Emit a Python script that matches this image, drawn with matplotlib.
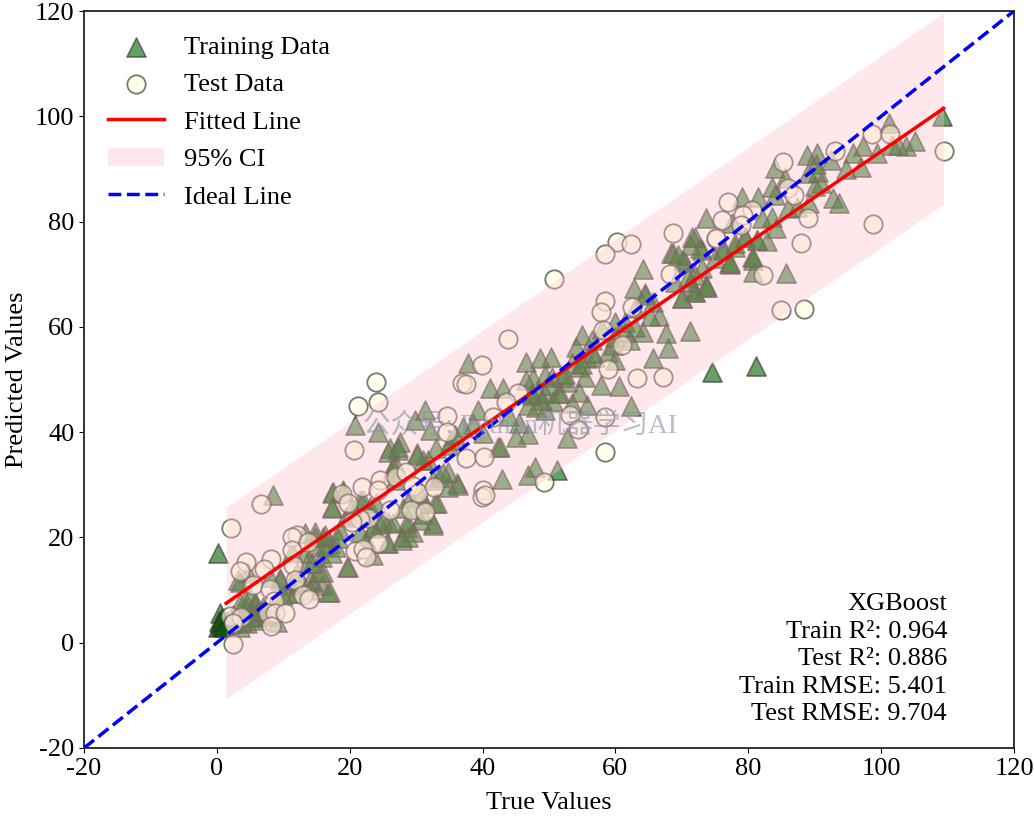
import matplotlib
matplotlib.use("Agg")
import matplotlib.pyplot as plt
import numpy as np

# values
train_x = [109.1, 101.2, 105.1, 103.7, 102.5, 101.6, 99.4, 97.3, 95.7, 96.9,
           94.7, 92.5, 90.3, 88.8, 90.2, 89.0, 90.5, 90.0, 91.0, 84.0,
           85.5, 83.5, 84.0, 86.0, 87.3, 89.1, 92.8, 93.7, 79.1, 81.5,
           73.6, 77.5, 82.0, 83.5, 84.2, 79.5, 81.3, 82.8, 72.0, 78.0,
           76.2, 73.0, 77.1, 80.6, 80.7, 80.7, 85.7, 73.7, 71.7, 72.0,
           64.2, 62.8, 64.5, 65.7, 66.5, 65.2, 64.2, 67.6, 71.2, 67.9,
           65.6, 62.2, 59.6, 58.9, 59.9, 57.9, 60.5, 62.3, 55.7, 54.9,
           54.0, 56.4, 55.7, 56.9, 53.4, 54.5, 55.4, 54.5, 52.7, 51.6,
           50.3, 48.6, 46.6, 47.6, 49.4, 46.5, 48.4, 49.4, 51.3, 46.8,
           48.1, 49.4, 52.7, 46.8, 45.1, 42.3, 37.8, 41.1, 43.1, 39.3,
           40.0, 35.3, 47.9, 46.8, 51.2, 42.9, 36.1, 74.5, 81.2, 68.4,
           70.5, 70.0, 72.0, 73.7, 71.2, 73.0, 77.2, 20.8, 31.3, 29.8,
           24.2, 32.1, 35.8, 26.1, 27.6, 27.3, 30.1, 31.8, 42.6, 8.5,
           0.2, 17.5, 19.0, 17.3, 26.8, 26.3, 32.5, 34.8, 36.3, 34.8,
           32.5, 32.8, 29.5, 27.8, 28.6, 25.6, 23.5, 25.8, 19.8, 23.5,
           19.5, 21.5, 23.0, 21.0, 17.0, 14.8, 13.3, 16.0, 14.8, 15.8,
           18.0, 16.0, 15.8, 16.8, 14.5, 13.5, 9.5, 8.0, 4.7, 3.5,
           10.7, 5.0, 3.5, 5.7, 7.0, 4.0, 5.5, 9.0, 3.5, 0.5,
           0.5, 0.2, 0.6, 0.3, 0.7, 1.0, 2.8, 4.6, 6.2, 7.5,
           29.0, 30.5, 33.5, 31.0, 28.0, 24.5, 22.5, 18.5, 12.0, 11.0,
           52.0, 50.0, 47.5, 53.5, 56.5, 60.0, 61.5, 63.0, 69.0, 75.0,
           3.2, 4.2, 5.7, 4.2, 6.2, 5.3, 3.8, 9.5, 11.8, 14.0,
           14.0, 15.5, 17.0, 14.3, 13.3, 11.3, 16.3, 17.3, 19.6, 14.8,
           18.2, 17.3, 19.0, 17.3, 22.0, 20.3, 22.0, 26.5, 26.8, 30.1,
           31.0, 34.0, 33.1, 32.5, 28.6, 30.6, 25.0, 26.5, 23.5, 28.8,
           25.8, 16.3, 27.9, 31.3, 29.5, 25.8, 27.3, 71.6, 68.6, 70.1,
           69.4, 72.7, 71.2, 70.9, 73.8, 72.0, 70.0, 64.4, 76.2, 78.0,
           79.5, 81.3, 80.7, 77.2, 50.6, 47.5, 50.5, 48.9, 52.4, 55.0,
           58.0, 60.0, 61.5, 63.0, 44.0, 45.5, 33.0, 37.0, 2.0, 1.5,
           1.0, 2.4, 6.8, 8.2, 10.0, 12.5, 21.5, 24.0, 35.0, 38.5]
train_y = [100.0, 98.7, 95.4, 94.3, 94.5, 94.5, 93.1, 94.3, 93.0, 90.3,
           90.0, 91.7, 93.1, 92.6, 90.9, 89.2, 89.5, 86.8, 87.3, 90.2,
           88.2, 86.6, 85.0, 82.6, 82.7, 83.6, 84.5, 83.5, 84.7, 84.7,
           80.7, 79.7, 80.7, 80.9, 78.8, 77.1, 76.5, 76.4, 77.1, 75.2,
           75.0, 74.6, 72.1, 73.3, 72.7, 70.5, 70.3, 67.6, 67.0, 69.9,
           71.0, 67.4, 66.4, 64.8, 62.0, 62.0, 59.1, 58.9, 59.2, 56.0,
           54.1, 57.5, 56.6, 55.3, 53.7, 49.0, 48.8, 45.0, 45.2, 58.5,
           56.2, 57.5, 54.1, 54.3, 53.1, 52.4, 50.5, 47.7, 49.6, 47.4,
           54.3, 54.1, 53.4, 50.3, 50.9, 49.9, 47.4, 47.4, 47.4, 45.2,
           44.8, 44.2, 38.9, 39.6, 39.1, 37.2, 53.2, 48.4, 48.4, 44.2,
           39.8, 38.5, 33.4, 31.9, 32.8, 31.1, 30.3, 51.5, 52.5, 74.0,
           72.4, 65.5, 66.7, 68.0, 68.6, 71.2, 72.0, 41.4, 44.2, 42.3,
           40.1, 40.4, 39.4, 37.0, 38.2, 36.6, 36.0, 34.7, 37.2, 28.0,
           17.1, 28.7, 28.7, 25.8, 34.1, 32.5, 30.9, 32.5, 30.0, 29.6,
           22.4, 26.5, 21.1, 20.1, 22.0, 19.0, 21.8, 23.0, 14.4, 16.7,
           23.9, 27.1, 25.8, 24.3, 18.9, 21.1, 20.8, 20.1, 18.2, 16.3,
           18.2, 13.5, 11.0, 9.7, 11.6, 15.1, 12.3, 12.5, 13.2, 11.6,
           9.4, 8.7, 7.5, 7.5, 6.8, 4.9, 4.9, 4.0, 3.0, 5.6,
           3.7, 3.0, 3.2, 4.2, 4.6, 3.4, 4.4, 3.8, 4.4, 5.0,
           27.5, 28.5, 31.5, 24.5, 25.5, 22.5, 19.5, 21.5, 13.5, 11.0,
           50.5, 49.0, 47.0, 45.5, 55.0, 61.0, 59.0, 63.5, 68.5, 73.0,
           11.9, 6.8, 7.8, 8.1, 5.8, 4.9, 3.9, 11.9, 9.4, 11.9,
           10.0, 13.4, 9.6, 15.1, 17.0, 17.2, 18.6, 17.0, 14.4, 20.0,
           19.9, 28.4, 29.0, 25.6, 27.1, 25.8, 24.3, 33.4, 30.9, 35.7,
           34.7, 32.2, 26.5, 22.7, 22.9, 23.3, 23.3, 22.7, 22.0, 20.0,
           18.9, 20.5, 19.5, 26.5, 25.8, 36.2, 37.2, 77.0, 74.0, 72.7,
           73.6, 75.0, 75.5, 69.5, 67.6, 66.6, 65.5, 66.0, 74.6, 75.9,
           77.0, 76.5, 73.3, 72.3, 46.0, 47.5, 50.5, 46.2, 51.0, 53.0,
           59.5, 58.0, 61.0, 60.0, 43.0, 41.8, 37.0, 41.0, 3.5, 4.2,
           3.0, 5.2, 6.0, 7.0, 9.0, 11.5, 21.0, 26.5, 37.5, 41.5]

test_x = [21.2, 24.3, 24.0, 34.6, 34.6, 20.6, 37.5, 40.2, 6.6, 2.2,
          18.8, 19.8, 21.9, 24.6, 24.2, 27.0, 28.4, 29.6, 30.3, 32.7,
          29.3, 31.3, 26.1, 22.8, 21.5, 20.3, 24.2, 20.8, 22.0, 22.4,
          12.0, 11.3, 11.3, 13.7, 11.4, 11.8, 12.9, 13.9, 8.2, 4.4,
          3.5, 7.1, 5.5, 8.0, 8.6, 7.7, 8.7, 10.3, 8.1, 2.0,
          3.7, 2.4, 2.4, 50.8, 60.2, 62.3, 58.5, 68.6, 75.2, 68.2,
          58.4, 57.8, 62.5, 58.1, 61.0, 43.9, 58.9, 63.3, 67.2, 39.9,
          36.9, 37.5, 45.3, 43.6, 41.5, 53.2, 54.3, 58.4, 58.5, 49.2,
          40.1, 39.9, 40.4, 85.2, 93.1, 98.6, 101.4, 109.4, 76.9, 86.0,
          86.9, 80.6, 79.2, 76.0, 78.9, 89.0, 75.1, 87.9, 98.8, 82.2,
          84.9, 88.4]
test_y = [45.0, 45.8, 49.5, 43.0, 40.0, 36.7, 35.0, 35.2, 26.4, 21.8,
          28.2, 26.5, 29.6, 30.9, 29.0, 31.4, 32.4, 29.8, 28.5, 29.6,
          25.2, 24.9, 25.2, 23.7, 23.5, 23.0, 19.0, 17.5, 17.8, 16.3,
          20.4, 20.0, 17.6, 19.2, 14.8, 11.9, 9.0, 8.3, 15.9, 15.3,
          13.7, 14.0, 11.0, 10.2, 8.0, 5.6, 5.6, 5.6, 3.2, 5.0,
          4.9, 3.7, -0.2, 69.0, 76.2, 75.8, 73.9, 77.8, 76.7, 70.0,
          64.9, 62.9, 63.7, 59.4, 56.6, 57.7, 52.0, 50.3, 50.5, 52.8,
          49.4, 49.2, 47.4, 45.8, 42.9, 43.3, 40.6, 42.9, 36.3, 30.6,
          29.0, 27.6, 28.0, 91.4, 93.4, 96.6, 96.6, 93.5, 83.8, 86.4,
          85.0, 82.2, 81.2, 80.3, 79.4, 80.7, 76.9, 75.9, 79.5, 69.9,
          63.2, 63.4]

fit_x = [1.4, 109.4]
fit_y = [7.5, 101.5]
ci_half = 18.2
ideal = [-20, 120]
ticks = [-20, 0, 20, 40, 60, 80, 100, 120]

plt.rcParams["font.family"] = ["Liberation Serif", "Noto Sans CJK SC"]
plt.rcParams["font.size"] = 19
plt.rcParams["axes.unicode_minus"] = False

fig = plt.figure(figsize=(10.34, 8.16), dpi=100)
ax = fig.add_axes([84 / 1034, 1 - 748 / 816, 930 / 1034, 737 / 816])

ax.scatter(train_x, train_y, s=190, marker="^", color="darkgreen", edgecolors="#3a2a2a",
           linewidths=1.2, alpha=0.6, label="Training Data", zorder=2)
ax.scatter(test_x, test_y, s=175, marker="o", color="lightyellow", edgecolors="#303030",
           linewidths=1.3, alpha=0.65, label="Test Data", zorder=3)
ax.plot(fit_x, fit_y, color="red", lw=2.5, label="Fitted Line", zorder=5)
ax.fill_between(fit_x, np.array(fit_y) - ci_half, np.array(fit_y) + ci_half, color="pink",
                alpha=0.36, linewidth=0, label="95% CI", zorder=4)
ax.plot(ideal, ideal, color="blue", ls="--", lw=2.5, label="Ideal Line", zorder=6)

ax.set_xlim(-20, 120)
ax.set_ylim(-20, 120)
ax.set_xticks(ticks)
ax.set_yticks(ticks)
ax.set_xlabel("True Values", labelpad=9)
ax.set_ylabel("Predicted Values", labelpad=4.5)
for s in ax.spines.values():
    s.set_linewidth(1.3)
    s.set_color("#222222")

ax.legend(loc="upper left", frameon=False, fontsize=19, handlelength=2.1,
          handletextpad=0.77, labelspacing=0.53, borderaxespad=0.46, borderpad=0.46)

ax.text(0.928, 0.031, "XGBoost\nTrain R²: 0.964\nTest R²: 0.886\nTrain RMSE: 5.401\nTest RMSE: 9.704",
        transform=ax.transAxes, ha="right", va="bottom", linespacing=1.325, zorder=7)

fig.text(520 / 1034, 1 - 424 / 816, "公众号: Python机器学习AI", fontsize=19.8, color="#8094a8",
         alpha=0.6, ha="center", va="center", zorder=10)

fig.savefig("out.png", dpi=100)
